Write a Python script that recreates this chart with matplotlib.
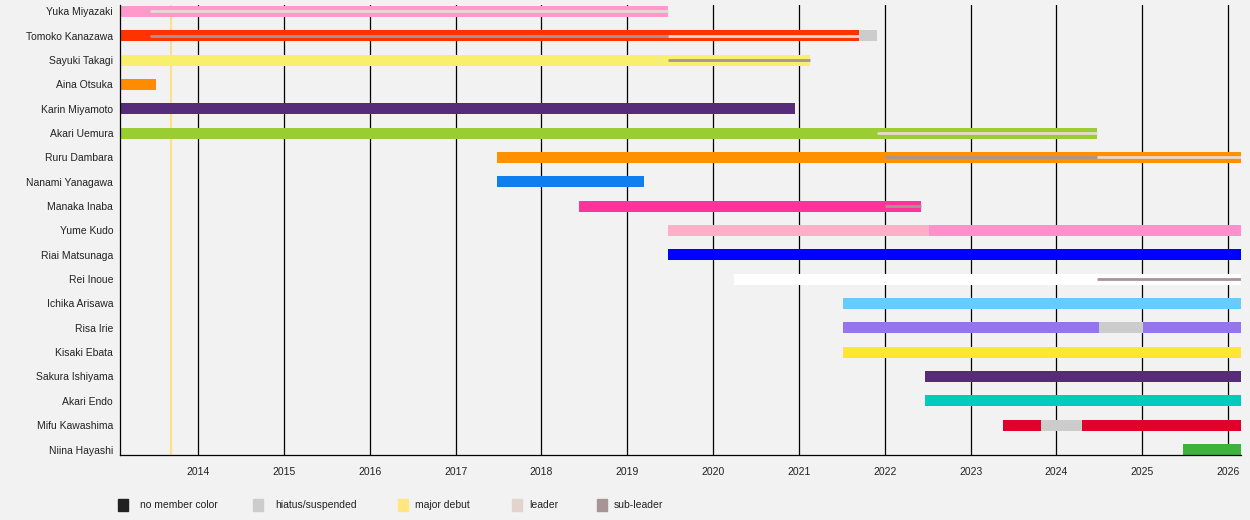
import matplotlib
matplotlib.use("Agg")
import matplotlib.pyplot as plt
from matplotlib.patches import Rectangle

# ---------- DATA ----------

members = [
    "Yuka Miyazaki", "Tomoko Kanazawa", "Sayuki Takagi", "Aina Otsuka",
    "Karin Miyamoto", "Akari Uemura", "Ruru Dambara", "Nanami Yanagawa",
    "Manaka Inaba", "Yume Kudo", "Riai Matsunaga", "Rei Inoue",
    "Ichika Arisawa", "Risa Irie", "Kisaki Ebata", "Sakura Ishiyama",
    "Akari Endo", "Mifu Kawashima", "Niina Hayashi",
]

START = 2013.09
END = 2026.15
MAJOR_DEBUT = 2013.68

# member-colour periods (row index, from, till, colour)
bar_rows = [0, 1, 1, 2, 3, 4, 5, 6, 7, 8, 9, 9, 10, 11, 12, 13, 13, 13, 14, 15, 16, 17, 17, 17, 18]
bar_from = [START, START, 2021.70, START, START, START, START, 2017.48, 2017.48, 2018.44,
            2019.47, 2022.52, 2019.47, 2020.24, 2021.51, 2021.51, 2024.50, 2025.01,
            2021.51, 2022.47, 2022.47, 2023.38, 2023.82, 2024.30, 2025.48]
bar_till = [2019.47, 2021.70, 2021.91, 2021.13, 2013.51, 2020.95, 2024.47, END, 2019.20, 2022.42,
            2022.52, END, END, END, END, 2024.50, 2025.01, END,
            END, END, END, 2023.82, 2024.30, END, END]
bar_colors = ["#ff99cc", "#ff3300", "#cccccc", "#f8f06c", "#ff8c00", "#552b7a", "#9acd32",
              "#ff9000", "#0f7ff0", "#ff3399", "#ffb0c8", "#ff90cc", "#0000ff", "#ffffff",
              "#66ccff", "#9575ed", "#cccccc", "#9575ed", "#ffe633", "#552b7a", "#00ccbb",
              "#e0002a", "#cccccc", "#e0002a", "#3db33d"]

# leader / sub-leader periods
role_rows = [0, 1, 1, 2, 5, 6, 6, 8, 11]
role_from = [2013.44, 2013.44, 2019.47, 2019.47, 2021.91, 2022.00, 2024.47, 2022.00, 2024.47]
role_till = [2019.47, 2019.47, 2021.70, 2021.13, 2024.47, 2024.47, END, 2022.42, END]
role_kind = ["leader", "sub", "leader", "sub", "leader", "sub", "leader", "sub", "sub"]

years = list(range(2014, 2027))

legend_labels = ["no member color", "hiatus/suspended", "major debut", "leader", "sub-leader"]
legend_colors = ["#222222", "#cccccc", "#ffe680", "#e3d3ce", "#a89496"]

role_colors = {"leader": "#e8d8d2", "sub": "#a89496"}

# ---------- PLOTTING ----------

plt.rcParams["font.family"] = ["Liberation Sans Narrow", "Liberation Sans", "DejaVu Sans"]
plt.rcParams["text.color"] = "#222222"
FS = 7.5

fig = plt.figure(figsize=(12.5, 5.2), dpi=100, facecolor="#f2f2f2")
ax = fig.add_axes([0.096, 0.125, 0.8968, 0.8654])
ax.set_facecolor("#f2f2f2")

for yr in years:
    ax.axvline(yr, color="black", lw=0.9, zorder=1)
ax.axvline(MAJOR_DEBUT, color="#ffe08a", lw=1.6, zorder=1)

ax.barh(bar_rows, [t - f for f, t in zip(bar_from, bar_till)], left=bar_from,
        height=0.46, color=bar_colors, linewidth=0, zorder=2)

for r, f, t, k in zip(role_rows, role_from, role_till, role_kind):
    ax.plot([f, t], [r, r], color=role_colors[k], lw=2.0, solid_capstyle="butt", zorder=3)

ax.set_xlim(START, END)
ax.set_ylim(len(members) - 1 + 0.226, -0.267)
ax.set_yticks(range(len(members)))
ax.set_yticklabels(members, fontsize=FS, color="#222222")
ax.set_xticks(years)
ax.set_xticklabels([str(y) for y in years], fontsize=FS, color="#222222")
ax.tick_params(axis="both", length=0)
ax.tick_params(axis="y", pad=5)
ax.tick_params(axis="x", pad=8.5)
for side in ["top", "right"]:
    ax.spines[side].set_visible(False)
ax.spines["left"].set_linewidth(0.9)
ax.spines["bottom"].set_linewidth(0.9)

# legend drawn in figure coordinates (pixel positions)
box_x = [118, 253, 398, 512, 597]
text_x = [140, 275, 415, 529, 614]
for bx, tx, lab, col in zip(box_x, text_x, legend_labels, legend_colors):
    fig.patches.append(Rectangle((bx / 1250, (520 - 511) / 520), 10 / 1250, 12 / 520,
                                 transform=fig.transFigure, color=col))
    fig.text(tx / 1250, (520 - 505) / 520, lab, fontsize=FS, va="center", ha="left")

fig.savefig("out.png", dpi=100, facecolor="#f2f2f2")
